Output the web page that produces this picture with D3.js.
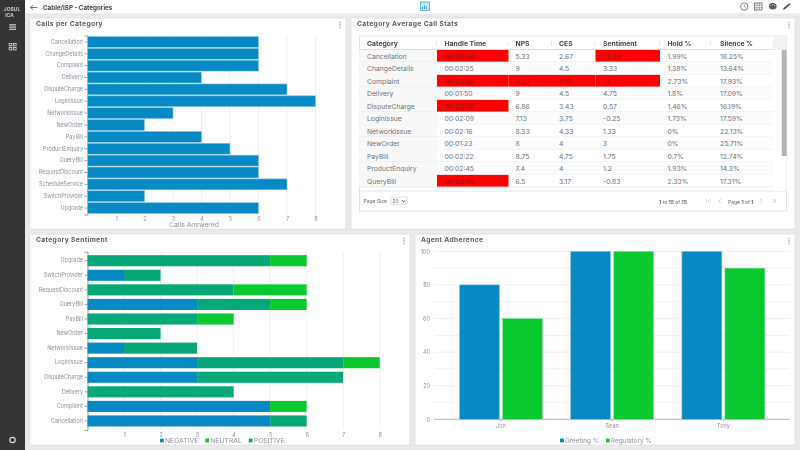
<!DOCTYPE html>
<html>
<head>
<meta charset="utf-8">
<script src="https://cdn.jsdelivr.net/npm/d3@7"></script>
<style>
    html, body { margin: 0; padding: 0; background: #e9e9e9; overflow: hidden; }
    svg { display: block; font-family: Inter, "Noto Sans", sans-serif; filter: blur(0.35px); }
    .title { font-size: 6.7px; font-weight: 700; fill: #565b66; letter-spacing: 0.35px; }
    .axis text { font-size: 5.5px; fill: #8d919c; font-family: Inter, sans-serif; }
    .axis .domain, .axis line { stroke: #9a9da6; }
    .grid line { stroke: #efefef; }
    .legend { fill: #8d919c; }
    .cell { font-size: 6.8px; fill: #6f7278; }
    .head { font-size: 6.8px; font-weight: 700; fill: #44474d; }
    .small { font-size: 5px; fill: #666a70; }
</style>
</head>
<body>
<div id="chart"></div>
<script>
// Colours
const BLUE = "#0789c4";
const GREEN = "#09c92e";
const TEAL = "#07a878";

// Calls per Category
const callCategories = ["Cancellation", "ChangeDetails", "Complaint", "Delivery", "DisputeCharge", "LoginIssue", "NetworkIssue", "NewOrder", "PayBill", "ProductEnquiry", "QueryBill", "RequestDiscount", "ScheduleService", "SwitchProvider", "Upgrade"];
const callCounts = [6, 6, 6, 4, 7, 8, 3, 2, 4, 5, 6, 6, 7, 2, 6];

// Category Average Call Stats
const tableHeaders = ["Category", "Handle Time", "NPS", "CES", "Sentiment", "Hold %", "Silence %"];
const tableCategories = ["Cancellation", "ChangeDetails", "Complaint", "Delivery", "DisputeCharge", "LoginIssue", "NetworkIssue", "NewOrder", "PayBill", "ProductEnquiry", "QueryBill"];
const handleTimes = ["00:03:28", "00:02:25", "00:03:45", "00:01:50", "00:03:06", "00:02:09", "00:02:16", "00:01:23", "00:02:22", "00:02:45", "00:03:05"];
const npsValues = [5.33, 9, 4.33, 9, 6.86, 7.13, 8.33, 8, 8.75, 7.4, 6.5];
const cesValues = [2.67, 4.5, 2.17, 4.5, 3.43, 3.75, 4.33, 4, 4.75, 4, 3.17];
const sentimentValues = [-3.33, 3.33, -4, 4.75, 0.57, -0.25, 1.33, 3, 1.75, 1.2, -0.83];
const holdValues = ["1.99%", "1.38%", "2.73%", "1.8%", "1.46%", "1.73%", "0%", "0%", "0.7%", "1.93%", "2.33%"];
const silenceValues = ["18.25%", "13.64%", "17.93%", "17.09%", "16.19%", "17.59%", "22.13%", "25.71%", "12.74%", "14.3%", "17.31%"];

// Category Sentiment (listed top to bottom)
const sentimentCategories = ["Upgrade", "SwitchProvider", "RequestDiscount", "QueryBill", "PayBill", "NewOrder", "NetworkIssue", "LoginIssue", "DisputeCharge", "Delivery", "Complaint", "Cancellation"];
const negativeCounts = [0, 1, 0, 3, 0, 0, 1, 3, 3, 0, 5, 5];
const positiveCounts = [5, 1, 4, 2, 3, 2, 2, 4, 4, 4, 0, 1];
const neutralCounts = [1, 0, 2, 1, 1, 0, 0, 1, 0, 0, 1, 0];

// Agent Adherence
const agents = ["Jon", "Sean", "Tony"];
const greetingPct = [80, 100, 100];
const regulatoryPct = [60, 100, 90];

const xTicks = [1, 2, 3, 4, 5, 6, 7, 8];

const svg = d3.select("#chart").append("svg")
    .attr("width", 800)
    .attr("height", 450);

function panel(x, y, w, h, title) {
    svg.append("rect")
        .attr("x", x).attr("y", y).attr("width", w).attr("height", h)
        .attr("fill", "#fff").attr("stroke", "#dedede").attr("stroke-width", 0.8);
    svg.append("text").attr("class", "title").attr("x", x + 6).attr("y", y + 8).text(title);
    // the little three dots menu
    svg.append("g").selectAll("circle").data([0, 1, 2]).enter().append("circle")
        .attr("cx", x + w - 6)
        .attr("cy", d => y + 4.5 + d * 2.6)
        .attr("r", 0.8)
        .attr("fill", "#a5a5a5");
}

// Draws grid, category axis and bottom value labels for the horizontal charts
function horizontalAxes(x, y, gridTop, gridBottom, labelY) {
    svg.append("g").attr("class", "grid").selectAll("line").data(xTicks).enter().append("line")
        .attr("x1", d => x(d)).attr("x2", d => x(d))
        .attr("y1", gridTop).attr("y2", gridBottom);

    const bottom = svg.append("g").attr("class", "axis")
        .attr("transform", `translate(0, ${labelY})`)
        .call(d3.axisBottom(x).tickValues(xTicks).tickSize(0).tickPadding(0));
    bottom.select(".domain").remove();

    svg.append("g").attr("class", "axis")
        .attr("transform", `translate(${x(0)}, 0)`)
        .call(d3.axisLeft(y).tickSize(3).tickPadding(1.5));
}

function legend(items, startX, y, size, gap) {
    const g = svg.append("g");
    let cursor = startX;
    items.forEach(item => {
        g.append("rect").attr("x", cursor).attr("y", y - 3.4).attr("width", 3.8).attr("height", 3.8).attr("fill", item.color);
        const t = g.append("text").attr("class", "legend").attr("x", cursor + 5).attr("y", y + 0.6)
            .style("font-size", size + "px").text(item.name);
        cursor += 5 + t.node().getComputedTextLength() + gap;
    });
}

// ---- Chrome ----
svg.append("rect").attr("width", 800).attr("height", 13.5).attr("fill", "#fff");
svg.append("rect").attr("width", 25).attr("height", 450).attr("fill", "#343434");
svg.append("text").attr("x", 12).attr("y", 11).attr("text-anchor", "middle")
    .attr("font-size", 5).attr("font-weight", 700).attr("fill", "#ccc").text("JOSUL");
svg.append("text").attr("x", 9.5).attr("y", 16.5).attr("text-anchor", "middle")
    .attr("font-size", 5).attr("font-weight", 700).attr("fill", "#ccc").text("ICA");

// hamburger
svg.append("g").selectAll("rect").data([0, 1, 2]).enter().append("rect")
    .attr("x", 9.2).attr("y", d => 24.3 + d * 2.2).attr("width", 6.8).attr("height", 1.1).attr("fill", "#ddd");
// dashboard squares
svg.append("g").selectAll("rect").data([[9.2, 43.5], [13.5, 43.5], [9.2, 47.5], [13.5, 47.5]]).enter().append("rect")
    .attr("x", d => d[0]).attr("y", d => d[1]).attr("width", 2.6).attr("height", 2.4)
    .attr("fill", "none").attr("stroke", "#ddd").attr("stroke-width", 0.8);
// help icon
svg.append("circle").attr("cx", 12.5).attr("cy", 440).attr("r", 2.7)
    .attr("fill", "none").attr("stroke", "#ddd").attr("stroke-width", 1.2);

// back arrow + page title
svg.append("path").attr("d", "M37.5 7.5H30.5M30.5 7.5L33 5.3M30.5 7.5L33 9.7")
    .attr("fill", "none").attr("stroke", "#555").attr("stroke-width", 0.8);
svg.append("text").attr("x", 43).attr("y", 9.6).attr("font-size", 6.25).attr("font-weight", 700)
    .attr("fill", "#3c3f45").text("Cable/ISP - Categories");

// chart icon, centre of header
svg.append("rect").attr("x", 420.5).attr("y", 2).attr("width", 9).attr("height", 8.5)
    .attr("fill", "#cfe8f6").attr("stroke", "#4aa6d8").attr("stroke-width", 0.8);
svg.append("path").attr("d", "M422.5 9V7M424.5 9V5.5M426.5 9V6.5")
    .attr("stroke", "#2f93cb").attr("stroke-width", 0.9);

// right hand header icons
svg.append("circle").attr("cx", 744.3).attr("cy", 6.5).attr("r", 3.7)
    .attr("fill", "none").attr("stroke", "#666").attr("stroke-width", 0.8);
svg.append("path").attr("d", "M744.3 4.3V6.7L745.9 7.8").attr("fill", "none").attr("stroke", "#666").attr("stroke-width", 0.6);
svg.append("rect").attr("x", 754.5).attr("y", 3).attr("width", 7.5).attr("height", 7)
    .attr("fill", "none").attr("stroke", "#666").attr("stroke-width", 0.8);
svg.append("path").attr("d", "M754.5 5.3H762M754.5 7.7H762M757 3V10M759.5 3V10")
    .attr("stroke", "#666").attr("stroke-width", 0.5);
svg.append("ellipse").attr("cx", 772.8).attr("cy", 6.2).attr("rx", 3.8).attr("ry", 3.3).attr("fill", "#5d5d5d");
svg.append("g").selectAll("circle").data([[770.8, 5.4], [772.8, 4.4], [774.8, 5.4]]).enter().append("circle")
    .attr("cx", d => d[0]).attr("cy", d => d[1]).attr("r", 0.5).attr("fill", "#fff");
svg.append("path").attr("d", "M783 9.9L783.6 8L789.5 3L790.6 4.2L785 9.3Z").attr("fill", "#555");

// ---- Calls per Category ----
panel(30, 18, 316, 211, "Calls per Category");

const x1 = d3.scaleLinear().domain([0, 8]).range([87.5, 315.5]);
const y1 = d3.scaleBand().domain(callCategories).range([35.5, 214.5]).padding(0.08);
horizontalAxes(x1, y1, 35.5, 214.5, 216.8);

svg.append("g").selectAll("rect").data(callCategories).enter().append("rect")
    .attr("x", x1(0))
    .attr("y", d => y1(d))
    .attr("width", (d, i) => x1(callCounts[i]) - x1(0))
    .attr("height", y1.bandwidth())
    .attr("fill", BLUE)
    .attr("stroke", "#8fcbe6")
    .attr("stroke-width", 0.6);

svg.append("text").attr("x", 194).attr("y", 227).attr("text-anchor", "middle")
    .attr("font-size", 6.8).attr("fill", "#8d919c").text("Calls Answered");

// ---- Category Average Call Stats ----
panel(351, 18, 444, 211, "Category Average Call Stats");

const tableLeft = 359.5, tableRight = 786.5, tableTop = 36, tableBottom = 211;
const headerBottom = 49.5, rowsBottom = 191, rowStep = 12.5, scrollLeft = 773.5;
const colEdges = [359.5, 437, 508.5, 552, 595.5, 660, 711, 773.5];
const textPad = [7.5, 7.5, 7, 7, 7.5, 7.5, 9];

svg.append("rect").attr("x", tableLeft).attr("y", tableTop)
    .attr("width", tableRight - tableLeft).attr("height", tableBottom - tableTop)
    .attr("fill", "#fff").attr("stroke", "#d9dce1").attr("stroke-width", 0.8);
svg.append("rect").attr("x", scrollLeft).attr("y", tableTop).attr("width", tableRight - scrollLeft).attr("height", headerBottom - tableTop).attr("fill", "#f3f3f3");

const tableRows = tableCategories.map((name, i) => [name, handleTimes[i], npsValues[i], cesValues[i], sentimentValues[i], holdValues[i], silenceValues[i]]);

// Cells turn red when the value passes a threshold
function isAlert(col, row) {
    if (col === 1) return handleTimes[row] >= "00:03:00";
    if (col === 2) return npsValues[row] < 5;
    if (col === 3) return cesValues[row] < 2.5;
    if (col === 4) return sentimentValues[row] < -3;
    return false;
}

const rows = svg.append("g").selectAll("g").data(tableRows).enter().append("g")
    .attr("transform", (d, i) => `translate(0, ${headerBottom + i * rowStep})`);

rows.append("rect").attr("x", tableLeft).attr("width", scrollLeft - tableLeft).attr("height", rowStep)
    .attr("fill", (d, i) => i % 2 ? "#fcfcfc" : "#fff");
rows.append("rect").attr("x", tableLeft).attr("width", colEdges[1] - tableLeft).attr("height", rowStep).attr("fill", "#f8f8f8");
rows.append("line").attr("x1", tableLeft).attr("x2", scrollLeft).attr("y1", rowStep).attr("y2", rowStep)
    .attr("stroke", "#dfe3ea").attr("stroke-width", 0.7);

rows.each(function (row, r) {
    const g = d3.select(this);
    row.forEach((value, c) => {
        if (isAlert(c, r)) {
            g.append("rect").attr("x", colEdges[c]).attr("y", 0.4)
                .attr("width", colEdges[c + 1] - colEdges[c]).attr("height", rowStep - 0.8).attr("fill", "#ff0000");
        }
        g.append("text").attr("class", "cell")
            .attr("x", colEdges[c] + textPad[c]).attr("y", 9)
            .style("fill", isAlert(c, r) ? "#8f1414" : null)
            .text(value);
    });
});

svg.append("line").attr("x1", tableLeft).attr("x2", tableRight).attr("y1", headerBottom).attr("y2", headerBottom).attr("stroke", "#d2d5da").attr("stroke-width", 0.8);
svg.append("line").attr("x1", tableLeft).attr("x2", tableRight).attr("y1", rowsBottom).attr("y2", rowsBottom).attr("stroke", "#d9dce1").attr("stroke-width", 0.8);

svg.append("g").selectAll("text").data(tableHeaders).enter().append("text")
    .attr("class", "head")
    .attr("x", (d, i) => colEdges[i] + textPad[i])
    .attr("y", 45.5)
    .text(d => d);
svg.append("g").selectAll("line").data(colEdges.slice(1)).enter().append("line")
    .attr("x1", d => d - 0.5).attr("x2", d => d - 0.5).attr("y1", 41).attr("y2", 45)
    .attr("stroke", "#d9dce1").attr("stroke-width", 0.7);

// scrollbar
svg.append("rect").attr("x", scrollLeft).attr("y", headerBottom).attr("width", tableRight - scrollLeft).attr("height", rowsBottom - headerBottom).attr("fill", "#fff");
svg.append("rect").attr("x", 781.7).attr("y", 50).attr("width", 5).attr("height", 106).attr("rx", 1).attr("fill", "#b3b3b3");

// pagination
svg.append("text").attr("class", "small").attr("x", 363.5).attr("y", 203).text("Page Size");
svg.append("rect").attr("x", 390.7).attr("y", 197).attr("width", 16.5).attr("height", 7.5).attr("rx", 1)
    .attr("fill", "#fff").attr("stroke", "#c7c7c7").attr("stroke-width", 0.5);
svg.append("text").attr("class", "small").attr("x", 392.5).attr("y", 203).text("20");
svg.append("path").attr("d", "M402 200L403.7 201.8L405.4 200").attr("fill", "none").attr("stroke", "#333").attr("stroke-width", 0.8);

const pageCount = svg.append("text").attr("class", "small").attr("x", 659).attr("y", 203.5);
[["1", 700], [" to ", 400], ["15", 700], [" of ", 400], ["15", 700]].forEach(p => {
    pageCount.append("tspan").attr("font-weight", p[1]).text(p[0]);
});
const pageOf = svg.append("text").attr("class", "small").attr("x", 728).attr("y", 203.5);
[["Page ", 400], ["1", 700], [" of ", 400], ["1", 700]].forEach(p => {
    pageOf.append("tspan").attr("font-weight", p[1]).text(p[0]);
});
svg.append("g").selectAll("path").data([
    "M706.5 199V203M710.5 199L708 201L710.5 203",
    "M721 199L718.5 201L721 203",
    "M760 199L762.5 201L760 203",
    "M772 199L774.5 201L772 203M775.5 199V203"
]).enter().append("path")
    .attr("d", d => d).attr("fill", "none").attr("stroke", "#bbb").attr("stroke-width", 0.6);

// ---- Category Sentiment ----
panel(30, 234, 380, 211, "Category Sentiment");

const x2 = d3.scaleLinear().domain([0, 8]).range([87.5, 379.7]);
const y2 = d3.scaleBand().domain(sentimentCategories).range([251.7, 430]).padding(0.24);
horizontalAxes(x2, y2, 251.7, 430, 433);

const sentimentTable = sentimentCategories.map((name, i) => ({
    name: name,
    NEGATIVE: negativeCounts[i],
    POSITIVE: positiveCounts[i],
    NEUTRAL: neutralCounts[i]
}));
const sentimentColor = d3.scaleOrdinal()
    .domain(["NEGATIVE", "NEUTRAL", "POSITIVE"])
    .range([BLUE, GREEN, TEAL]);

const stacked = d3.stack().keys(["NEGATIVE", "POSITIVE", "NEUTRAL"])(sentimentTable);

svg.append("g").selectAll("g").data(stacked).enter().append("g")
    .attr("fill", d => sentimentColor(d.key))
    .selectAll("rect").data(d => d).enter().append("rect")
    .attr("x", d => x2(d[0]))
    .attr("y", d => y2(d.data.name))
    .attr("width", d => x2(d[1]) - x2(d[0]))
    .attr("height", y2.bandwidth());

legend(sentimentColor.domain().map(name => ({ name: name, color: sentimentColor(name) })), 160, 442, 6.8, 7);

// ---- Agent Adherence ----
panel(415, 234, 380, 211, "Agent Adherence");

const yTicks = [0, 20, 40, 60, 80, 100];
const minorTicks = [10, 30, 50, 70, 90];
const x3 = d3.scaleBand().domain(agents).range([445.3, 779]);
const x3Inner = d3.scaleBand().domain(["Greeting %", "Regulatory %"]).range([x3.bandwidth() / 2 - 41.5, x3.bandwidth() / 2 + 41.5]).paddingInner(0.07);
const y3 = d3.scaleLinear().domain([0, 100]).range([419.3, 251.3]);

svg.append("g").attr("class", "grid").selectAll("line").data(yTicks.concat(minorTicks)).enter().append("line")
    .attr("x1", 434).attr("x2", 790)
    .attr("y1", d => y3(d)).attr("y2", d => y3(d));

const left3 = svg.append("g").attr("class", "axis")
    .attr("transform", "translate(434, 0)")
    .call(d3.axisLeft(y3).tickValues(yTicks).tickSize(0).tickPadding(4));
left3.select(".domain").remove();

const bottom3 = svg.append("g").attr("class", "axis")
    .attr("transform", "translate(0, 419.3)")
    .call(d3.axisBottom(x3).tickSize(2).tickPadding(3));
bottom3.select(".domain").remove();
svg.append("line").attr("x1", 434).attr("x2", 790).attr("y1", 419.3).attr("y2", 419.3).attr("stroke", "#a9abb2").attr("stroke-width", 0.8);

[[greetingPct, "Greeting %", BLUE, "#8fcbe6"], [regulatoryPct, "Regulatory %", GREEN, "#96e6a6"]].forEach(s => {
    svg.append("g").selectAll("rect").data(agents).enter().append("rect")
        .attr("x", d => x3(d) + x3Inner(s[1]))
        .attr("y", (d, i) => y3(s[0][i]))
        .attr("width", x3Inner.bandwidth())
        .attr("height", (d, i) => y3(0) - y3(s[0][i]))
        .attr("fill", s[2])
        .attr("stroke", s[3])
        .attr("stroke-width", 0.6);
});

legend([{ name: "Greeting %", color: BLUE }, { name: "Regulatory %", color: GREEN }], 560, 442, 6.4, 7);
</script>
</body>
</html>
